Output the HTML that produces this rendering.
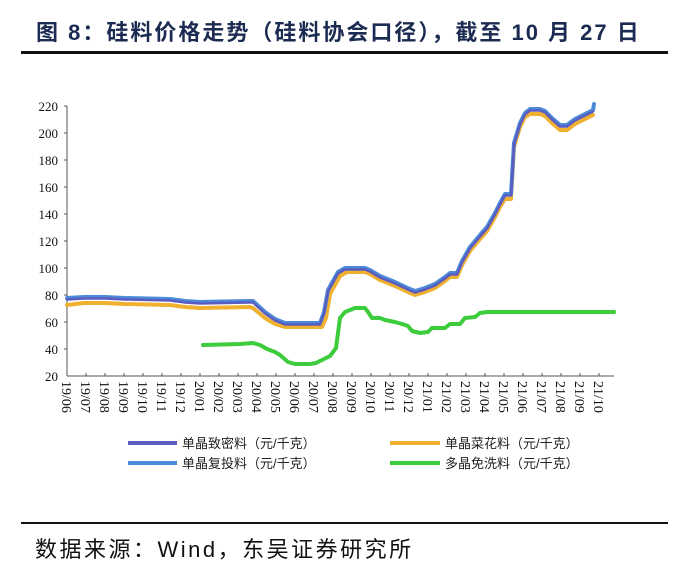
<!DOCTYPE html>
<html><head><meta charset="utf-8"><style>
body{margin:0;background:#fff;width:700px;height:560px;overflow:hidden;position:relative;font-family:"Liberation Sans","Noto Sans CJK SC",sans-serif}
.t{position:absolute;left:36px;top:15px;font-size:22px;font-weight:bold;color:#1c2b52;letter-spacing:2.0px;white-space:nowrap}
.f{position:absolute;left:35px;top:532px;font-size:22px;color:#111;letter-spacing:2.5px;white-space:nowrap}
</style></head><body>
<div class="t">图 8：硅料价格走势（硅料协会口径），截至 10 月 27 日</div>
<div style="position:absolute;left:21px;top:51px;width:647px;height:3px;background:#111"></div>
<svg width="700" height="560" style="position:absolute;left:0;top:0">
<g font-family="Liberation Serif,serif" font-size="13" fill="#111" text-anchor="end">
<text x="58" y="111">220</text><text x="58" y="138">200</text><text x="58" y="165">180</text><text x="58" y="192">160</text><text x="58" y="219">140</text><text x="58" y="246">120</text><text x="58" y="273">100</text><text x="58" y="300">80</text><text x="58" y="327">60</text><text x="58" y="354">40</text><text x="58" y="381">20</text>
</g>
<g stroke="#555" stroke-width="1">
<line x1="67" y1="106" x2="67" y2="376"/><line x1="67" y1="376" x2="614" y2="376"/>
<line x1="64" y1="106" x2="67" y2="106"/><line x1="64" y1="133" x2="67" y2="133"/><line x1="64" y1="160" x2="67" y2="160"/><line x1="64" y1="187" x2="67" y2="187"/><line x1="64" y1="214" x2="67" y2="214"/><line x1="64" y1="241" x2="67" y2="241"/><line x1="64" y1="268" x2="67" y2="268"/><line x1="64" y1="295" x2="67" y2="295"/><line x1="64" y1="322" x2="67" y2="322"/><line x1="64" y1="349" x2="67" y2="349"/>
</g>
<g id="xt" font-family="Liberation Serif,serif" font-size="14" fill="#111"></g>
<g fill="none" stroke-linejoin="round" stroke-linecap="round">
<polyline stroke="#f0b030" stroke-width="4" points="67,305 84,303 105,303 125,304 170,305 185,307 200,308 250,307 253,308 265,318 275,324 285,327 322,327 326,318 330,294 340,276 347,272 365,272 370,274 380,280 395,286 410,293 415,295 425,292 435,288 445,281 450,277 457,277 462,265 470,251 480,239 487,231 495,217 500,207 505,199 511,199 514,147 520,127 525,117 530,114 540,114 545,116 552,123 560,130 567,130 575,124 585,119 593,115"/>
<polyline stroke="#4a8ad8" stroke-width="4" points="67,298 84,297 105,297 125,298 170,299 185,301 200,302 250,301 253,301 265,312 275,319 285,323 320,323 324,312 328,290 338,272 345,268 365,268 370,270 380,276 395,282 410,289 415,291 425,288 435,284 445,277 450,273 457,273 462,261 470,247 480,235 487,227 495,213 500,203 505,194 511,194 514,143 520,123 525,113 530,109 540,109 545,111 552,118 560,125 567,125 575,119 585,114 593,110 594,104"/>
<polyline stroke="#5a5cc0" stroke-width="2.5" transform="translate(0,1.5)" points="67,298 84,297 105,297 125,298 170,299 185,301 200,302 250,301 253,301 265,312 275,319 285,323 320,323 324,312 328,290 338,272 345,268 365,268 370,270 380,276 395,282 410,289 415,291 425,288 435,284 445,277 450,273 457,273 462,261 470,247 480,235 487,227 495,213 500,203 505,194 511,194 514,143 520,123 525,113 530,109 540,109 545,111 552,118 560,125 567,125 575,119 585,114 593,110"/>
<polyline stroke="#3ccc3c" stroke-width="4" points="203,345 240,344 253,343 260,345 267,349 275,352 280,355 288,362 295,364 310,364 316,363 322,360 330,356 336,348 340,318 345,312 355,308 365,308 368,312 372,318 380,318 385,320 395,322 402,324 408,326 412,331 420,333 428,332 432,328 445,328 450,324 460,324 465,318 475,317 480,313 487,312 614,312"/>
</g>
<g font-size="13" fill="#222" font-family="Liberation Sans,Noto Sans CJK SC,sans-serif">
<line x1="128" y1="443" x2="177" y2="443" stroke="#5a5cc0" stroke-width="4"/><text x="182" y="448">单晶致密料（元/千克）</text>
<line x1="390" y1="443" x2="440" y2="443" stroke="#f0b030" stroke-width="4"/><text x="445" y="448">单晶菜花料（元/千克）</text>
<line x1="128" y1="463" x2="177" y2="463" stroke="#4a8ad8" stroke-width="4"/><text x="182" y="468">单晶复投料（元/千克）</text>
<line x1="390" y1="463" x2="440" y2="463" stroke="#3ccc3c" stroke-width="4"/><text x="445" y="468">多晶免洗料（元/千克）</text>
</g>
</svg>
<div style="position:absolute;left:21px;top:522px;width:647px;height:2px;background:#111"></div>
<div class="f">数据来源：Wind，东吴证券研究所</div>
<script>
var g=document.getElementById('xt'),s='',labs=[];
for(var i=0;i<29;i++){var y=19+Math.floor((i+5)/12),m=(i+5)%12+1;labs.push(y+'/'+(m<10?'0':'')+m);}
for(var i=0;i<29;i++){var x=67+19*i;
s+='<line x1="'+x+'" y1="373" x2="'+x+'" y2="376" stroke="#555"/>';
s+='<text transform="translate('+(x-5)+',381) rotate(90)">'+labs[i]+'</text>';}
g.innerHTML=s;
</script>
</body></html>
